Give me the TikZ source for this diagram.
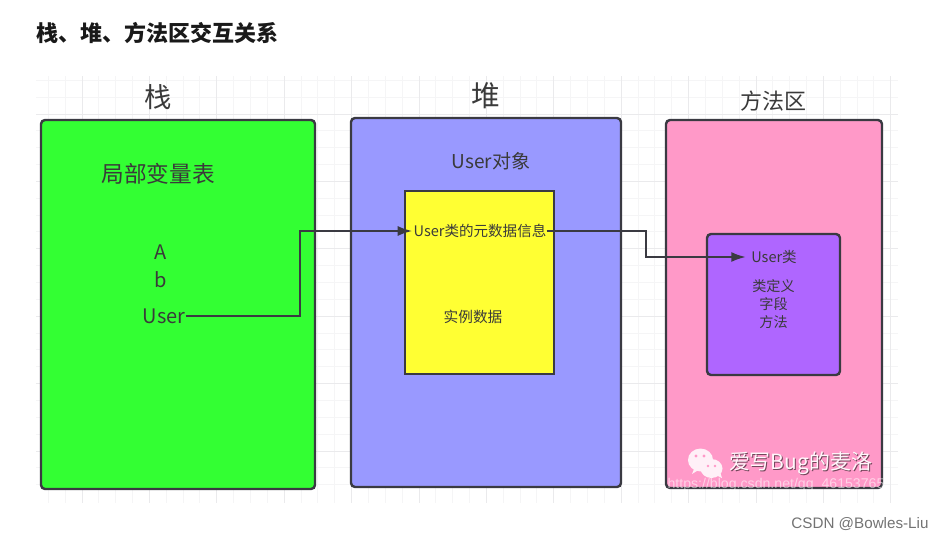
\documentclass[tikz,border=0pt]{standalone}
\usepackage{fontspec}
\setmainfont{Noto Sans CJK SC}
\newfontfamily\latinfont{Liberation Sans}
\usetikzlibrary{arrows.meta}
\definecolor{ink}{HTML}{3A3A42}
\definecolor{txt}{HTML}{3A3A3A}
\definecolor{gridminor}{HTML}{F5F5F6}
\definecolor{gridmajor}{HTML}{EAEAEC}
\definecolor{stackgreen}{HTML}{33FF33}
\definecolor{heapblue}{HTML}{9999FF}
\definecolor{methodpink}{HTML}{FF99C8}
\definecolor{metayellow}{HTML}{FFFF33}
\definecolor{classpurple}{HTML}{AF66FF}
\tikzset{
  panel/.style={draw=ink,line width=1.8pt,rounded corners=3pt},
  label/.style={inner sep=0pt,text=txt,align=center},
  conn/.style={draw=ink,line width=1.7pt,-{Latex[length=11pt,width=7.5pt]}},
  bubble/.style={fill=white!85!methodpink,draw=none},
  eye/.style={fill=methodpink,draw=none}
}
\begin{document}
\begin{tikzpicture}[x=0.75pt,y=-0.75pt]
\useasboundingbox (0,0) rectangle (943,539);
\fill[white] (0,0) rectangle (943,539);
% background grid
\begin{scope}
\clip (36,76) rectangle (898,503);
\foreach \i in {-2,...,50}{
  \pgfmathsetmacro{\xx}{82+16.85*\i}
  \draw[gridminor,line width=.75pt] (\xx,76) -- (\xx,503);
}
\foreach \i in {-2,...,22}{
  \pgfmathsetmacro{\yy}{114+16.85*\i}
  \draw[gridminor,line width=.75pt] (36,\yy) -- (898,\yy);
}
\foreach \i in {0,...,12}{
  \pgfmathsetmacro{\xx}{82+67.4*\i}
  \draw[gridmajor,line width=.75pt] (\xx,76) -- (\xx,503);
}
\foreach \i in {0,...,6}{
  \pgfmathsetmacro{\yy}{114+67.4*\i}
  \draw[gridmajor,line width=.75pt] (36,\yy) -- (898,\yy);
}
\end{scope}
% title
\node[anchor=west,inner sep=0pt,text=black!90] (title) at (36,33) {\fontsize{16.5pt}{19pt}\selectfont\bfseries 栈、堆、方法区交互关系};
% panels
\draw[panel,fill=stackgreen] (41,120) rectangle (315,489);
\draw[panel,fill=heapblue] (351,118) rectangle (621,487);
\draw[panel,fill=methodpink] (666,120) rectangle (882,488);
\draw[ink,line width=1.8pt,fill=metayellow] (405,191) rectangle (554,374);
\draw[panel,fill=classpurple] (707,234) rectangle (840,375);
% headers
\node[label] (hstack) at (158,97) {\fontsize{20.5pt}{24pt}\selectfont 栈};
\node[label] (hheap) at (486,96) {\fontsize{21.5pt}{25pt}\selectfont 堆};
\node[label] (hmethod) at (773,101) {\fontsize{16.5pt}{20pt}\selectfont 方法区};
% stack contents
\node[label] (locals) at (158,174) {\fontsize{17pt}{20pt}\selectfont 局部变量表};
\node[label] (va) at (161,252) {\fontsize{15pt}{18pt}\selectfont A};
\node[label] (vb) at (161,280) {\fontsize{15pt}{18pt}\selectfont b};
\node[label] (vuser) at (164,316) {\fontsize{15pt}{18pt}\selectfont User};
% heap contents
\node[label] (uobj) at (491,161) {\fontsize{14.3pt}{18pt}\selectfont User对象};
\node[label] (meta) at (480,231) {\fontsize{10.9pt}{14pt}\selectfont User类的元数据信息};
\node[label] (inst) at (473,317) {\fontsize{11pt}{14pt}\selectfont 实例数据};
% method contents
\node[label] (ucls) at (774,257) {\fontsize{10.9pt}{14pt}\selectfont User类};
\node[label] (def) at (773.5,286) {\fontsize{10.6pt}{14pt}\selectfont 类定义};
\node[label] (fld) at (773.5,304) {\fontsize{10.6pt}{14pt}\selectfont 字段};
\node[label] (mth) at (773.5,322) {\fontsize{10.6pt}{14pt}\selectfont 方法};
% connectors
\coordinate (bendA) at (300,270);
\coordinate (bendB) at (646,245);
\draw[conn] (vuser.east) -- (vuser.east -| bendA) -- (bendA |- meta.west) -- ([xshift=-.75pt]meta.west);
\draw[conn] (meta.east) -- (meta.east -| bendB) -- (bendB |- ucls.west) -- ([xshift=-3.75pt]ucls.west);
% watermark
\fill[bubble] (700.5,460) ellipse [x radius=9.4pt,y radius=8.6pt];
\fill[bubble] (694,469) -- (692,474) -- (700,469) -- cycle;
\fill[bubble] (711.5,468.5) ellipse [x radius=8.25pt,y radius=7.1pt];
\fill[bubble] (716,475) -- (722,478) -- (720,472) -- cycle;
\fill[eye] (696,456) circle [radius=1.2pt];
\fill[eye] (704,456) circle [radius=1.2pt];
\fill[eye] (708,466) circle [radius=1.05pt];
\fill[eye] (715,466) circle [radius=1.05pt];
\node[inner sep=0pt,text=black!55!methodpink] at (801.5,464) {\fontsize{15.7pt}{19pt}\selectfont 爱写Bug的麦洛};
\node[inner sep=0pt,text=white!92!methodpink] (wm) at (800.5,463) {\fontsize{15.7pt}{19pt}\selectfont 爱写Bug的麦洛};
\node[inner sep=0pt,text=white,opacity=0.55] (url) at (776,485) {\latinfont\fontsize{10.6pt}{13pt}\selectfont https://blog.csdn.net/qq\_46153765};
\node[inner sep=0pt,text=black!55] (csdn) at (860,524) {\latinfont\fontsize{11.4pt}{13pt}\selectfont CSDN @Bowles-Liu};
\end{tikzpicture}
\end{document}
